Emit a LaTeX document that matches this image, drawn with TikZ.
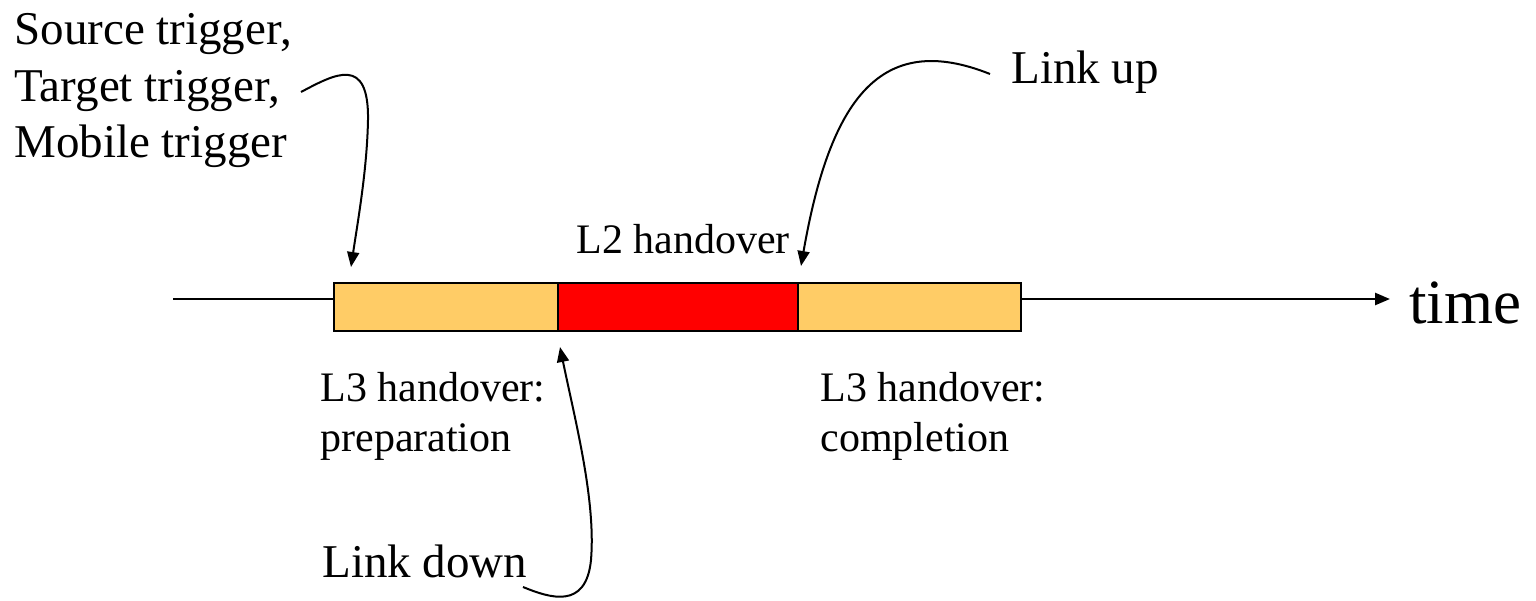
\documentclass[tikz,border=0pt]{standalone}
\usepackage{fontspec}
\setmainfont{Liberation Serif}
\usetikzlibrary{arrows.meta}
\definecolor{phaseorange}{HTML}{FFCC66}
\definecolor{phasered}{HTML}{FF0000}
\begin{document}
\begin{tikzpicture}[x=0.5pt,y=-0.5pt,
  seg/.style={draw=black, line width=1.25pt, minimum height=24pt,
    inner sep=0pt, outer sep=0pt, anchor=north west},
  biglabel/.style={font=\fontsize{23.5pt}{28.25pt}\selectfont, inner sep=0pt, align=left},
  smalllabel/.style={font=\fontsize{21pt}{24.75pt}\selectfont, inner sep=0pt, align=left},
  timeaxis/.style={line width=1.25pt},
  pointer/.style={line width=1pt, -{Triangle[length=7.5pt,width=6pt]}}
]
\useasboundingbox (0,0) rectangle (1536,600);

% the three phases of the handover along the time line
\node[seg, fill=phaseorange, minimum width=112pt] (prep) at (334,283) {};
\node[seg, fill=phasered, minimum width=120pt] (l2) at (prep.north east) {};
\node[seg, fill=phaseorange, minimum width=111.5pt] (compl) at (l2.north east) {};

% time axis
\coordinate (axstart) at (173,299);
\coordinate (axend) at (1390,299);
\draw[timeaxis] (axstart) -- (axstart -| prep.west);
\draw[timeaxis, -{Triangle[length=7.5pt,width=6pt]}] (axstart -| compl.east) -- (axend);
\node[font=\fontsize{31.5pt}{36pt}\selectfont, inner sep=0pt, anchor=base west] (time) at (1409,323) {time};

% labels
\node[biglabel, anchor=north west] (triggers) at (14,13) {Source trigger,\\Target trigger,\\Mobile trigger};
\node[smalllabel, anchor=base west] (l2lbl) at (576,253) {L2 handover};
\node[smalllabel, anchor=north west] (preplbl) at (320,372) {L3 handover:\\preparation};
\node[smalllabel, anchor=north west] (compllbl) at (820,372) {L3 handover:\\completion};
\node[biglabel, anchor=base west] (linkup) at (1011,83) {Link up};
\node[biglabel, anchor=base west] (linkdown) at (322,577) {Link down};

% pointers to the events
\coordinate (trigfrom) at (301,92);
\coordinate (trigto) at (351,267);
\draw[pointer] (trigfrom) .. controls (335,74) and (369,55) .. (368,120)
  .. controls (367,170) and (358,220) .. (trigto);

\coordinate (upfrom) at (990,74);
\coordinate (upto) at (801,266);
\draw[pointer] (upfrom) .. controls (880,30) and (830,100) .. (upto);

\coordinate (downfrom) at (523,587);
\coordinate (downto) at (560,347);
\draw[pointer] (downfrom) .. controls (550,598) and (586,610) .. (591,560)
  .. controls (596,500) and (575,420) .. (downto);
\end{tikzpicture}
\end{document}
